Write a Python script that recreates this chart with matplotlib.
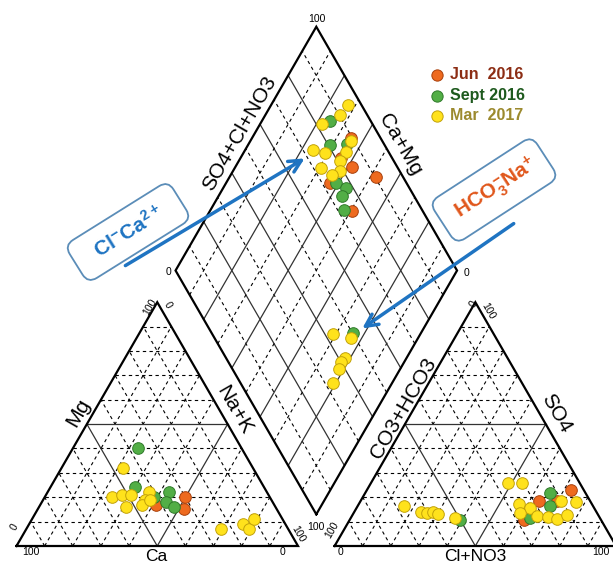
import numpy as np
import matplotlib.pyplot as plt

plt.rcParams['font.family'] = ['Liberation Sans', 'DejaVu Sans']
plt.rcParams['mathtext.fontset'] = 'custom'
plt.rcParams['mathtext.rm'] = 'Liberation Sans'
plt.rcParams['mathtext.bf'] = 'Liberation Sans:bold'

seasons = ['Jun  2016', 'Sept 2016', 'Mar  2017']
fill_colors = ['#EE6A1F', '#52AE46', '#FFE21C']
edge_colors = ['#A8400C', '#2F7A2A', '#C2A20A']
text_colors = ['#8C2D14', '#1E5A1E', '#9C8A2E']

# cation triangle (% meq/l)
jun_ca = [42, 30, 33]
jun_mg = [17, 20, 15]
sept_ca = [37, 46, 41, 35, 38, 36]
sept_mg = [40, 24, 20, 22, 18, 16]
mar_ca = [46, 56, 52, 49, 53, 42, 45, 47, 43, 24, 15, 14, 10]
mar_mg = [32, 20, 21, 21, 16, 22, 19, 17, 19, 7, 9, 7, 11]

# anion triangle (% meq/l)
jun_cl = [72.7, 63.2, 69.7, 61.9]
jun_so4 = [22.9, 18.6, 18.6, 10.5]
sept_cl = [39.2, 65.6, 68.5, 63.5]
sept_so4 = [10.5, 21.7, 16.3, 11.5]
mar_cl = [16.6, 23.7, 25.9, 28.1, 30.1, 37.0, 48.7, 53.4, 71.2, 76.8,
          56.9, 61.6, 58.9, 65.9, 70.0, 73.5, 76.0]
mar_so4 = [16.3, 13.8, 13.6, 13.8, 13.3, 11.4, 26.0, 26.0, 18.4, 18.1,
           17.3, 15.5, 13.6, 12.3, 11.8, 11.0, 12.9]

# diamond: Ca+Mg and SO4+Cl+NO3 (%)
jun_camg = [64.9, 64.3, 58.5, 63.0, 47.9, 49.5]
jun_so4cl = [89.5, 81.7, 84.1, 72.9, 90.3, 75.0]
sept_camg = [75.6, 64.9, 71.0, 60.9, 56.4, 56.2, 52.7, 24.3]
sept_so4cl = [85.6, 86.9, 80.5, 75.1, 77.5, 74.3, 72.3, 50.1]
mar_camg = [72.5, 73.3, 77.9, 64.3, 75.8, 71.2, 63.7, 64.1, 69.6, 62.2,
            64.1, 30.9, 23.9, 22.0, 22.4, 21.6, 21.0]
mar_so4cl = [95.2, 90.3, 82.3, 88.7, 73.8, 77.1, 84.8, 80.7, 72.6, 78.7,
             75.2, 43.0, 48.3, 42.2, 40.1, 38.0, 33.0]

GAP = 13
H = np.sqrt(3) / 2
DX0, DY0 = 100 + GAP / 2, GAP * H   # diamond bottom vertex


def cation_xy(ca, mg):
    ca, mg = np.asarray(ca, float), np.asarray(mg, float)
    na = 100 - ca - mg
    return na + mg / 2, mg * H


def anion_xy(cl, so4):
    cl, so4 = np.asarray(cl, float), np.asarray(so4, float)
    return 100 + GAP + cl + so4 / 2, so4 * H


def diamond_xy(camg, so4cl):
    c, s = np.asarray(camg, float), np.asarray(so4cl, float)
    return DX0 + (s - c) / 2, DY0 + (s + c) * H


# pixel -> data helper for placing labels
S, PX0, PY0 = 2.815, 16.5, 546


def px(x, y):
    return (x - PX0) / S, (PY0 - y) / S


fig = plt.figure(figsize=(6.13, 5.63), dpi=100)
ax = fig.add_axes([0, 0, 1, 1])
ax.set_xlim(-PX0 / S, (613 - PX0) / S)
ax.set_ylim(-(563 - PY0) / S, PY0 / S)
ax.axis('off')

dash = dict(color='black', lw=0.8, ls=(0, (3, 3)), zorder=1)
solid = dict(color='#333333', lw=0.9, zorder=1)


def triangle(x0):
    for k in range(10, 100, 10):
        st = solid if k == 50 else dash
        ax.plot([x0 + k / 2, x0 + 100 - k / 2], [k * H, k * H], **st)
        ax.plot([x0 + k, x0 + k + (100 - k) / 2], [0, (100 - k) * H], **st)
        ax.plot([x0 + 100 - k, x0 + (100 - k) / 2], [0, (100 - k) * H], **st)
    ax.plot([x0, x0 + 100, x0 + 50, x0], [0, 0, 100 * H, 0],
            color='black', lw=1.6, zorder=2, solid_joinstyle='miter')


triangle(0)
triangle(100 + GAP)

# diamond grid
for k in range(10, 100, 10):
    st = solid if k % 20 == 0 else dash
    x, y = diamond_xy([k, k], [0, 100])
    ax.plot(x, y, **st)
    x, y = diamond_xy([0, 100], [k, k])
    ax.plot(x, y, **st)
x, y = diamond_xy([0, 100, 100, 0, 0], [0, 0, 100, 100, 0])
ax.plot(x, y, color='black', lw=1.6, zorder=2, solid_joinstyle='miter')

groups = [
    (jun_ca, jun_mg, jun_cl, jun_so4, jun_camg, jun_so4cl),
    (sept_ca, sept_mg, sept_cl, sept_so4, sept_camg, sept_so4cl),
    (mar_ca, mar_mg, mar_cl, mar_so4, mar_camg, mar_so4cl),
]
for i, (ca, mg, cl, so4, camg, so4cl) in enumerate(groups):
    kw = dict(s=70, c=fill_colors[i], edgecolors=edge_colors[i],
              linewidths=0.7, zorder=5 + i)
    ax.scatter(*cation_xy(ca, mg), **kw)
    ax.scatter(*anion_xy(cl, so4), **kw)
    ax.scatter(*diamond_xy(camg, so4cl), **kw)

# legend
for i, name in enumerate(seasons):
    ly = 75 + 20.5 * i
    ax.scatter(*px(437, ly), s=66, c=fill_colors[i], edgecolors=edge_colors[i],
               linewidths=0.7, zorder=8)
    ax.text(*px(450, ly), name, color=text_colors[i], fontsize=11.5,
            fontweight='bold', va='center', ha='left')

# axis labels
big = 15
ax.text(*px(156, 561), 'Ca', fontsize=12.5, ha='center', va='baseline')
ax.text(*px(475, 561), 'Cl+NO3', fontsize=12.5, ha='center', va='baseline')
ax.text(*px(78, 413), 'Mg', fontsize=big, rotation=60, ha='center', va='center')
ax.text(*px(234, 410), 'Na+K', fontsize=big, rotation=-60, ha='center', va='center')
ax.text(*px(403, 408), 'CO3+HCO3', fontsize=big, rotation=60, ha='center', va='center')
ax.text(*px(556, 413), 'SO4', fontsize=big, rotation=-60, ha='center', va='center')
ax.text(*px(240, 133), 'SO4+Cl+NO3', fontsize=big, rotation=60, ha='center', va='center')
ax.text(*px(400, 145), 'Ca+Mg', fontsize=big, rotation=-60, ha='center', va='center')

# tick numbers
small = 7.5
ticks = [
    (31, 552, '100', 0), (283, 552, '0', 0),
    (14, 527, '0', 60), (150, 307, '100', 60),
    (168, 305, '0', -60), (298, 534, '100', -60),
    (341, 552, '0', 0), (601, 552, '100', 0),
    (332, 530, '100', 60), (473, 304, '0', 60),
    (488, 311, '100', -60),
    (317, 19, '100', 0), (168, 272, '0', 0),
    (466, 273, '0', 0), (316, 527, '100', 0),
]
for tx, ty, t, rot in ticks:
    ax.text(*px(tx, ty), t, fontsize=small, rotation=rot,
            ha='center', va='center')

# annotations
blue = '#1F74C2'
ax.annotate('', xy=px(307, 157), xytext=px(123, 267),
            arrowprops=dict(arrowstyle='->', color=blue, lw=2.5,
                            mutation_scale=22), zorder=9)
ax.annotate('', xy=px(360, 330), xytext=px(516, 222),
            arrowprops=dict(arrowstyle='->', color=blue, lw=2.5,
                            mutation_scale=22), zorder=9)
box = dict(boxstyle='round,pad=0.55,rounding_size=0.5', fc='white',
           ec='#5B8DB8', lw=1.3)
ax.text(*px(128, 232), '  $\\mathbf{Cl^{-}Ca^{2+}}$  ', color=blue,
        fontsize=15, rotation=32, ha='center', va='center', bbox=box, zorder=10)
ax.text(*px(494, 190), ' $\\mathbf{HCO_3^{-}Na^{+}}$ ', color='#E0561B',
        fontsize=15, rotation=33, ha='center', va='center', bbox=box, zorder=10)

fig.savefig('out.png', dpi=100)
